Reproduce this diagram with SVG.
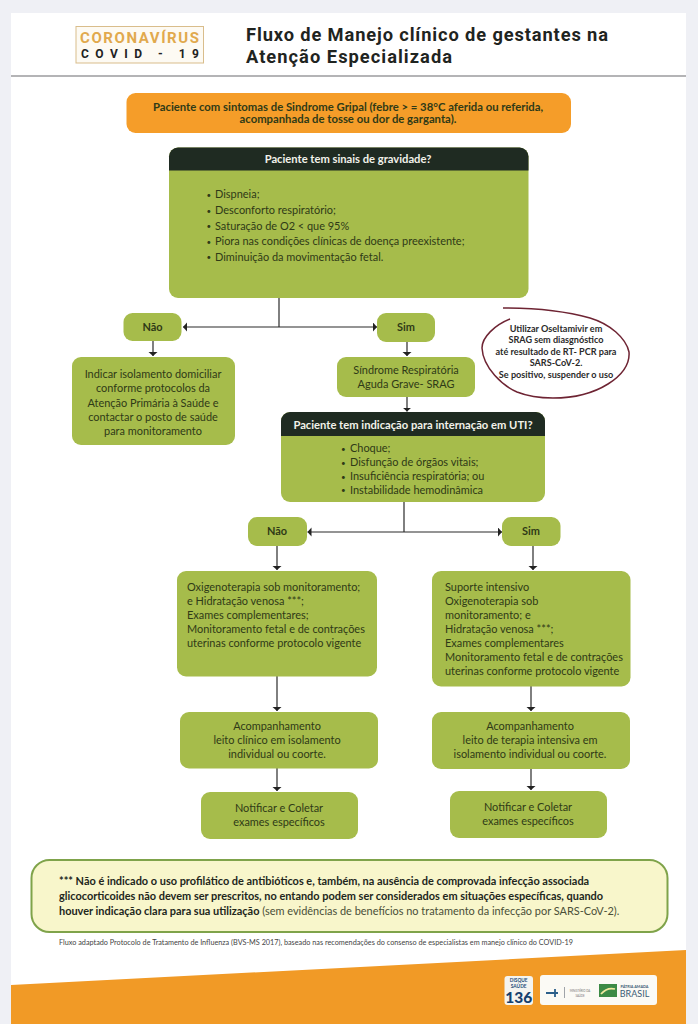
<svg xmlns="http://www.w3.org/2000/svg" width="698" height="1024" viewBox="0 0 698 1024">
<defs>
<marker id="a" markerWidth="5" markerHeight="10" refX="4" refY="4.500" orient="auto-start-reverse" markerUnits="userSpaceOnUse"><path d="M0 0L4 4.500L0 9Z" fill="#222"/></marker>
</defs>
<style>
text{font-family:Lato,"Open Sans","Liberation Sans",sans-serif;text-anchor:middle;fill:#2f3a17}
.n{fill:#a6bc4b}
.t{font-size:10.950px}
.d{font-size:8px;text-anchor:start}
.l{text-anchor:start}
.b{font-weight:700}
.h{font-size:11.200px;font-weight:700;fill:#f2f2ea}
.o{font-size:9.100px;font-weight:700;fill:#2a2a2a}
.m{font-size:10.950px;fill:#22261b}
.c{fill:none;stroke:#2b2b2b;stroke-width:1.200}
.r{font-family:Roboto,"Open Sans",sans-serif;font-weight:700}
</style>
<rect width="698" height="1024" fill="#eff0f5"/>
<rect x="11" y="13" width="675" height="1011" fill="#fff"/>
<rect x="11" y="75" width="675" height="2" fill="#b4b4b6"/>
<g id="logo"><rect x="76" y="26.500" width="127.500" height="36.500" fill="#fdfaf3" stroke="#d9bd8b"/>
<text class="r" x="139.500" y="43" textLength="119" style="font-size:15px;fill:#e1a94d">CORONAVÍRUS</text>
<text class="r" x="140" y="58" textLength="118" style="font-size:12px;fill:#222">COVID - 19</text></g>
<g id="title"><text class="l r" x="246" y="41" textLength="362" style="font-size:18.300px;fill:#1f2421">Fluxo de Manejo clínico de gestantes na</text>
<text class="l r" x="246" y="62.500" textLength="206" style="font-size:18.300px;fill:#1f2421">Atenção Especializada</text></g>

<g id="connectors">
<path class="c" d="M279 298V327"/>
<path class="c" d="M183 327H377" marker-start="url(#a)" marker-end="url(#a)"/>
<path class="c" d="M153 341V356" marker-end="url(#a)"/>
<path class="c" d="M407 342V356" marker-end="url(#a)"/>
<path class="c" d="M407 396V411.500" marker-end="url(#a)"/>
<path class="c" d="M404 502V532"/>
<path class="c" d="M307.500 532H502" marker-start="url(#a)" marker-end="url(#a)"/>
<path class="c" d="M277 546V570" marker-end="url(#a)"/>
<path class="c" d="M533 546V570" marker-end="url(#a)"/>
<path class="c" d="M277 676V711" marker-end="url(#a)"/>
<path class="c" d="M531 686V711" marker-end="url(#a)"/>
<path class="c" d="M277 768V791" marker-end="url(#a)"/>
<path class="c" d="M531 769V790" marker-end="url(#a)"/>
</g>

<g id="start"><rect x="126.500" y="93" width="444.500" height="40" rx="9" fill="#f59d29"/>
<text x="348" y="111" class="b" style="font-size:11.300px">Paciente com sintomas de Sindrome Gripal (febre &gt; = 38°C aferida ou referida,</text>
<text x="348" y="123" class="b" style="font-size:11.300px">acompanhada de tosse ou dor de garganta).</text></g>

<g id="gravidade"><rect class="n" x="169" y="147.500" width="359.500" height="150.500" rx="9"/>
<path d="M178 147.500H519.500a9 9 0 0 1 9 9V170.500H169V156.500a9 9 0 0 1 9-9Z" fill="#1f2b22"/>
<text x="348" y="163" class="h">Paciente tem sinais de gravidade?</text>
<text class="d" x="206.500" y="197.500">•</text><text class="t l" x="215" y="198">Dispneia;</text>
<text class="d" x="206.500" y="213.500">•</text><text class="t l" x="215" y="214">Desconforto respiratório;</text>
<text class="d" x="206.500" y="229">•</text><text class="t l" x="215" y="229.500">Saturação de O2 &lt; que 95%</text>
<text class="d" x="206.500" y="244.500">•</text><text class="t l" x="215" y="245">Piora nas condições clínicas de doença preexistente;</text>
<text class="d" x="206.500" y="260">•</text><text class="t l" x="215" y="260.500">Diminuição da movimentação fetal.</text>
</g>

<g id="nao1"><rect class="n" x="123.500" y="313" width="58" height="28" rx="9"/><text x="152.500" y="331" class="b t">Não</text></g>
<g id="sim1"><rect class="n" x="377" y="313" width="58" height="29" rx="9"/><text x="406" y="331" class="b t">Sim</text></g>

<g id="isolamento"><rect class="n" x="72" y="357" width="163" height="88" rx="9"/>
<text class="t" x="153" y="378">Indicar isolamento domiciliar</text>
<text class="t" x="153" y="392">conforme protocolos da</text>
<text class="t" x="153" y="406.500">Atenção Primária à Saúde e</text>
<text class="t" x="153" y="420.500">contactar o posto de saúde</text>
<text class="t" x="153" y="434.500">para monitoramento</text></g>

<g id="srag"><rect class="n" x="337" y="357" width="138" height="40" rx="9"/>
<text class="t" x="406" y="374">Síndrome Respiratória</text>
<text class="t" x="406" y="388">Aguda Grave- SRAG</text></g>

<g id="oseltamivir"><path d="M503 308C530 308 565 311 590 318C610 324 626 338 629 352C630 364 622 375 608 384C592 394 572 398 553 398C538 398 527 396 517 392C503 386 483 368 482 348C482 337 495 325 510 319" fill="none" stroke="#6e2433" stroke-width="1.500"/>
<text class="o" x="556" y="331.500">Utilizar Oseltamivir em</text>
<text class="o" x="556" y="342.500">SRAG sem diasgnóstico</text>
<text class="o" x="556" y="354.500">até resultado de RT- PCR para</text>
<text class="o" x="556" y="366">SARS-CoV-2.</text>
<text class="o" x="556" y="377.500">Se positivo, suspender o uso</text></g>

<g id="uti"><rect class="n" x="281" y="412" width="264" height="90" rx="9"/>
<path d="M290 412H536a9 9 0 0 1 9 9V436H281V421a9 9 0 0 1 9-9Z" fill="#1f2b22"/>
<text x="413" y="429" class="h">Paciente tem indicação para internação em UTI?</text>
<text class="d" x="341" y="451.500">•</text><text class="t l" x="350" y="452">Choque;</text>
<text class="d" x="341" y="465.500">•</text><text class="t l" x="350" y="466">Disfunção de órgãos vitais;</text>
<text class="d" x="341" y="479.500">•</text><text class="t l" x="350" y="480">Insuficiência respiratória; ou</text>
<text class="d" x="341" y="493">•</text><text class="t l" x="350" y="493.500">Instabilidade hemodinâmica</text></g>

<g id="nao2"><rect class="n" x="248" y="517" width="59" height="29" rx="9"/><text x="277" y="535" class="b t">Não</text></g>
<g id="sim2"><rect class="n" x="502" y="517" width="58.500" height="29" rx="9"/><text x="531" y="535" class="b t">Sim</text></g>

<g id="oxigeno"><rect class="n" x="177" y="571" width="200" height="105.500" rx="9"/>
<text class="t l" x="187" y="591">Oxigenoterapia sob monitoramento;</text>
<text class="t l" x="187" y="605">e Hidratação venosa ***;</text>
<text class="t l" x="187" y="618.500">Exames complementares;</text>
<text class="t l" x="187" y="633">Monitoramento fetal e de contrações</text>
<text class="t l" x="187" y="647">uterinas conforme protocolo vigente</text></g>

<g id="suporte"><rect class="n" x="432" y="571" width="198.500" height="115.500" rx="9"/>
<text class="t l" x="445" y="591">Suporte intensivo</text>
<text class="t l" x="445" y="605">Oxigenoterapia sob</text>
<text class="t l" x="445" y="618.500">monitoramento; e</text>
<text class="t l" x="445" y="633">Hidratação venosa ***;</text>
<text class="t l" x="445" y="646.500">Exames complementares</text>
<text class="t l" x="445" y="660.500">Monitoramento fetal e de contrações</text>
<text class="t l" x="445" y="674.500">uterinas conforme protocolo vigente</text></g>

<g id="acomp1"><rect class="n" x="180" y="712" width="198" height="56.500" rx="9"/>
<text class="t" x="277" y="730">Acompanhamento</text>
<text class="t" x="277" y="744">leito clínico em isolamento</text>
<text class="t" x="277" y="757.500">individual ou coorte.</text></g>

<g id="acomp2"><rect class="n" x="432" y="712" width="198" height="57" rx="9"/>
<text class="t" x="530" y="730">Acompanhamento</text>
<text class="t" x="530" y="744">leito de terapia intensiva em</text>
<text class="t" x="530" y="757.500">isolamento individual ou coorte.</text></g>

<g id="notif1"><rect class="n" x="201" y="792" width="157" height="47" rx="9"/>
<text class="t" x="279" y="812">Notificar e Coletar</text>
<text class="t" x="279" y="826">exames específicos</text></g>

<g id="notif2"><rect class="n" x="450" y="791" width="157" height="47" rx="9"/>
<text class="t" x="528" y="811">Notificar e Coletar</text>
<text class="t" x="528" y="825">exames específicos</text></g>

<g id="nota"><rect x="31.500" y="860" width="636" height="72" rx="18" fill="#f8f6cb" stroke="#7fa34a" stroke-width="2"/>
<text class="l b m" x="59" y="885">*** Não é indicado o uso profilático de antibióticos e, também, na ausência de comprovada infecção associada</text>
<text class="l b m" x="59" y="900">glicocorticoides não devem ser prescritos, no entando podem ser considerados em situações específicas, quando</text>
<text class="l m" x="59" y="914.500" style="fill:#4a4f38"><tspan class="b" style="fill:#22261b">houver indicação clara para sua utilização</tspan> (sem evidências de benefícios no tratamento da infecção por SARS-CoV-2).</text></g>

<text class="l" x="59" y="945" style="font-size:7.270px;fill:#444">Fluxo adaptado Protocolo de Tratamento de  Influenza (BVS-MS 2017), baseado nas recomendações do consenso de especialistas em manejo clínico do COVID-19</text>

<path d="M11 1024V985L686 950V1024Z" fill="#f19a26"/>
<g id="marcas">
<rect x="504.500" y="976" width="28.500" height="29" rx="3" fill="#f4f4f0"/>
<text x="518.700" y="982" style="font-size:4.800px;font-weight:700;fill:#1d4d7a">DISQUE</text>
<text x="518.700" y="987.500" style="font-size:4.800px;font-weight:700;fill:#1d4d7a">SAÚDE</text>
<text x="518.700" y="1003" style="font-size:15.500px;font-weight:900;fill:#14406e">136</text>
<rect x="540" y="975" width="117" height="30" rx="3" fill="#fbfaf5"/>
<path d="M546 993H558M555 989V997" stroke="#2c5f8a" stroke-width="1.800" fill="none"/>
<rect x="564" y="987" width="0.800" height="11" fill="#8a8f96"/>
<text x="580" y="992" style="font-size:2.800px;fill:#777">MINISTÉRIO DA</text>
<text x="580" y="996.500" style="font-size:2.800px;fill:#777">SAÚDE</text>
<rect x="599" y="984" width="18" height="13" fill="#3c8a45"/>
<path d="M601 994Q607 987 615 989" stroke="#f2e9a0" stroke-width="1.800" fill="none"/>
<text x="634.500" y="987.500" style="font-size:3.800px;font-weight:700;fill:#3c5c75">PÁTRIA AMADA</text>
<text x="634.500" y="996.500" style="font-size:9px;fill:#3c5c75">BRASIL</text></g>
</svg>
